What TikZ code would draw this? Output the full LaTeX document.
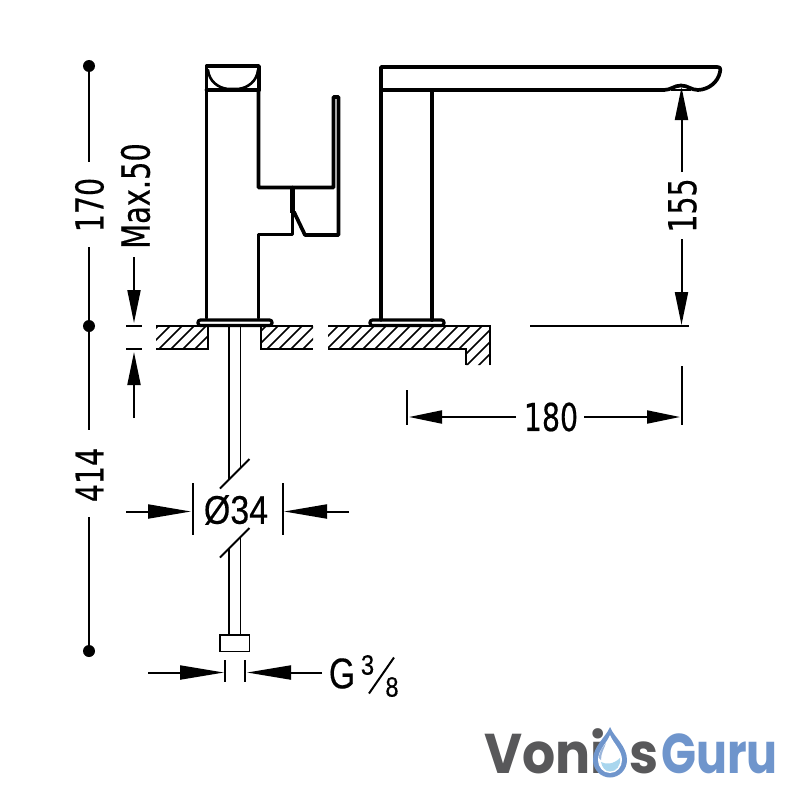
\documentclass[tikz,border=0pt]{standalone}
\usepackage{fontspec}
\usetikzlibrary{arrows.meta}
\newfontfamily\dimfont[FakeStretch=0.74,FakeBold=0.35]{DejaVu Sans}
\newfontfamily\arialfont[FakeStretch=0.85,FakeBold=0.3]{Liberation Sans}
\newfontfamily\gfont[FakeStretch=0.78,FakeBold=0.3]{Liberation Sans}
\newfontfamily\logofont[FakeStretch=0.93]{Poppins}
\newfontfamily\logofontb[FakeStretch=0.82]{Poppins}
\tikzset{
  heavy/.style={line width=3.7pt,line join=round,line cap=round},
  thin line/.style={line width=1.9pt},
  pipe/.style={line width=1.8pt},
  dim/.style={line width=2pt},
  arrowed/.style={dim,-{Triangle[length=33pt,width=13pt]}},
  dimtext/.style={inner sep=0pt,font=\dimfont\fontsize{38.4pt}{38.4pt}\selectfont},
  dot/.style={circle,fill=black,inner sep=0pt,minimum size=12pt},
  logogray/.style={inner sep=0pt,anchor=base west,text=logoG,font=\logofont\bfseries\fontsize{56pt}{56pt}\selectfont},
  logoblue/.style={inner sep=0pt,anchor=base west,text=logoB,font=\logofontb\bfseries\fontsize{56pt}{56pt}\selectfont},
}
\definecolor{logoG}{HTML}{58585A}
\definecolor{logoB}{HTML}{6F95CC}
\definecolor{logoW}{HTML}{A9D6EE}
\begin{document}
\begin{tikzpicture}[x=1pt,y=-1pt]
\useasboundingbox (0,0) rectangle (800,800);
% --- hatching
\begin{scope}
 \clip (156,326) rectangle (208,349) (261,326) rectangle (313,349)
       (328,326) -- (490,326) -- (490,365) -- (466,365) -- (466,349) -- (328,349) -- cycle;
 \foreach \k in {0,...,37} {
   \draw[line width=1.7pt] ({100+12*\k},372) -- ({100+12*\k+46},326);
 }
\end{scope}
% --- floor outlines
\draw[thin line] (156,326) -- (208,326) -- (208,349) -- (156,349);
\draw[thin line] (313,326) -- (261,326) -- (261,349) -- (313,349);
\draw[thin line] (328,326) -- (490,326) -- (490,365);
\draw[thin line] (328,349) -- (466,349) -- (466,365);
% --- left mixer body
\draw[heavy] (206.5,318) -- (206.5,66) -- (259,66) -- (259,90);
\draw[heavy] (206.5,90) -- (259,90);
\draw[line width=2.6pt,line cap=round] (208,70) .. controls (209,81) and (218,88) .. (228,89) -- (238,89) .. controls (248,88) and (257,81) .. (258,70);
\draw[heavy] (258.5,90) -- (258.5,187.5) -- (333.5,187.5) -- (333.5,97) -- (338.5,97) -- (338.5,235) -- (305,235) -- (294,212);
\draw[heavy] (258.5,318) -- (258.5,234.5) -- (292.5,234.5) -- (292.5,187.5);
\draw[line width=5pt] (292.5,187.5) -- (292.5,213);
% --- flanges
\draw[line width=3.2pt,rounded corners=2.5pt] (198,325.5) -- (198,320) -- (272,320) -- (272,325.5) -- cycle;
\draw[line width=3.2pt,rounded corners=2.5pt] (370,325.5) -- (370,320) -- (444,320) -- (444,325.5) -- cycle;
% --- right spout
\draw[heavy] (381,320) -- (381,67) -- (717,67) .. controls (720.5,67) and (720.5,69) .. (720,72) .. controls (718,82) and (709,89.5) .. (698,90);
\draw[heavy] (381,90) -- (664,90) .. controls (671,90) and (674,85.5) .. (681,85.5) .. controls (688,85.5) and (691,90) .. (698,90);
\draw[line width=2pt] (671,90) -- (691,90);
\draw[heavy] (432,90) -- (432,320);
% --- pipe
\draw[pipe] (229,326) -- (229,479);
\draw[pipe] (240.5,326) -- (240.5,468);
\draw[pipe] (229,548) -- (229,635);
\draw[pipe] (240.5,537) -- (240.5,635);
\draw[dim] (220,488.5) -- (249.5,459);
\draw[dim] (220,557.5) -- (249.5,528);
\draw[line width=1.9pt] (220,635) rectangle (249.5,651.5);
% --- left overall dimensions
\node[dot] (d1) at (89,66) {};
\node[dot] (d2) at (89,326) {};
\node[dot] (d3) at (89,651) {};
\coordinate (a170) at (89,162);
\coordinate (b170) at (89,247);
\coordinate (a414) at (89,430);
\coordinate (b414) at (89,517);
\draw[dim] (d1.center) -- (a170);
\draw[dim] (b170) -- (d2.center) -- (a414);
\draw[dim] (b414) -- (d3.center);
\node[dimtext,rotate=90] (t170) at (89.5,205) {170};
\node[dimtext,rotate=90] (t414) at (89.5,475) {414};
% --- Max.50
\node[dimtext,rotate=90,font=\dimfont\fontsize{39pt}{39pt}\selectfont] (tmax) at (135.5,196) {Max.50};
\coordinate (m1) at (134,257);
\coordinate (m1t) at (134,323);
\coordinate (m2) at (134,418);
\coordinate (m2t) at (134,352);
\draw[arrowed] (m1) -- (m1t);
\draw[arrowed] (m2) -- (m2t);
\coordinate (k1) at (126,326); \coordinate (k2) at (142,326);
\coordinate (k3) at (126,349); \coordinate (k4) at (142,349);
\draw[dim] (k1) -- (k2);
\draw[dim] (k3) -- (k4);
% --- 155
\node[dimtext,rotate=90] (t155) at (682.5,205.5) {155};
\coordinate (h1) at (681.5,172);
\coordinate (h1t) at (681.5,87);
\coordinate (h2) at (681.5,239);
\coordinate (h2t) at (681.5,325);
\draw[arrowed] (h1) -- (h1t);
\draw[arrowed] (h2) -- (h2t);
\coordinate (g1) at (530,326); \coordinate (g2) at (689,326);
\draw[dim] (g1) -- (g2);
% --- 180
\node[dimtext] (t180) at (551,417) {180};
\coordinate (w1) at (516,417);
\coordinate (w1t) at (409,417);
\coordinate (w2) at (584,417);
\coordinate (w2t) at (680,417);
\draw[arrowed] (w1) -- (w1t);
\draw[arrowed] (w2) -- (w2t);
\coordinate (q1) at (407,390); \coordinate (q2) at (407,425);
\coordinate (q3) at (681.5,366); \coordinate (q4) at (681.5,425);
\draw[dim] (q1) -- (q2);
\draw[dim] (q3) -- (q4);
% --- diameter 34
\node[inner sep=0pt,font=\arialfont\fontsize{40pt}{40pt}\selectfont] (t34) at (236,510) {Ø34};
\coordinate (r1) at (126,511.5); \coordinate (r1t) at (191,511.5);
\coordinate (r2) at (349,511.5); \coordinate (r2t) at (284,511.5);
\draw[dim,-{Triangle[length=43pt,width=14pt]}] (r1) -- (r1t);
\draw[dim,-{Triangle[length=43pt,width=14pt]}] (r2) -- (r2t);
\coordinate (s1) at (193,483); \coordinate (s2) at (193,535);
\coordinate (s3) at (282.5,483); \coordinate (s4) at (282.5,535);
\draw[dim] (s1) -- (s2);
\draw[dim] (s3) -- (s4);
% --- G 3/8
\coordinate (u1) at (148,672.5); \coordinate (u1t) at (224,672.5);
\coordinate (u2) at (322,672.5); \coordinate (u2t) at (247,672.5);
\draw[dim,-{Triangle[length=44pt,width=14pt]}] (u1) -- (u1t);
\draw[dim,-{Triangle[length=44pt,width=14pt]}] (u2) -- (u2t);
\coordinate (v1) at (225,660); \coordinate (v2) at (225,682);
\coordinate (v3) at (244.5,660); \coordinate (v4) at (244.5,682);
\draw[dim] (v1) -- (v2);
\draw[dim] (v3) -- (v4);
\node[inner sep=0pt,font=\gfont\fontsize{43pt}{43pt}\selectfont] (tg) at (342,673.5) {G};
\node[inner sep=0pt,font=\arialfont\fontsize{28pt}{28pt}\selectfont] (t3) at (367.5,665) {3};
\node[inner sep=0pt,font=\arialfont\fontsize{28pt}{28pt}\selectfont] (t8) at (392,687) {8};
\coordinate (f1) at (369,693.5); \coordinate (f2) at (394,657.5);
\draw[line width=2pt] (f1) -- (f2);
% --- logo
\node[logogray] (lv) at (484,773) {Voni};
\node[logogray] (ls) at (629,773) {s};
\node[logoblue] (lg) at (661,773) {Guru};
\fill[logoB] (610,727) .. controls (606,737) and (593,746) .. (593,760) .. controls (593,770) and (601,777.5) .. (610,777.5) .. controls (619,777.5) and (627,770) .. (627,760) .. controls (627,746) and (614,737) .. (610,727) -- cycle;
\fill[white] (610,735) .. controls (607,743) and (598,750) .. (598,760) .. controls (598,767) and (603,773) .. (610,773) .. controls (617,773) and (622,767) .. (622,760) .. controls (622,750) and (613,743) .. (610,735) -- cycle;
\fill[logoW] (601,762) .. controls (606,765) and (614,764) .. (620,758) .. controls (621,766) and (616,771.5) .. (610,771.5) .. controls (605,771.5) and (602,767) .. (601,762) -- cycle;
\fill[logoB!70] (599,758) .. controls (599,750) and (604,746) .. (606,743) .. controls (604,749) and (601,753) .. (601,760) -- cycle;
\end{tikzpicture}
\end{document}
